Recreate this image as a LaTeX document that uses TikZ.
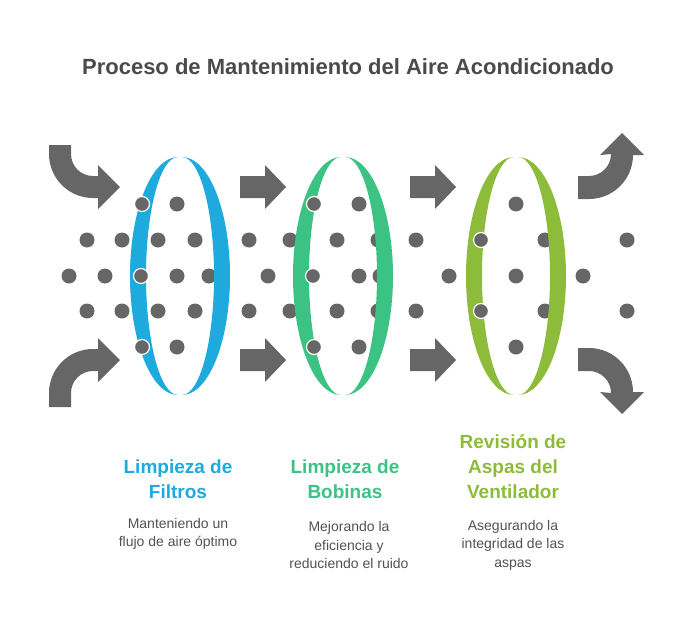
\documentclass[tikz,border=0pt]{standalone}
\usepackage{fontspec}
\setmainfont{Liberation Sans}
\definecolor{grey}{HTML}{666666}
\definecolor{titlegrey}{HTML}{4A4A4A}
\definecolor{cblue}{HTML}{1EAADC}
\definecolor{cgreen}{HTML}{3CC384}
\definecolor{clime}{HTML}{8DBB3A}
\tikzset{
  dot/.style={fill=grey},
  frontdot/.style={fill=grey, draw=white, line width=1.2pt},
  flow/.style={fill=grey},
  head/.style={font=\bfseries\fontsize{19}{25}\selectfont, align=center},
  desc/.style={font=\fontsize{14}{18.5}\selectfont, text=grey!80!black, align=center}
}
% left and right halves of a ring
\newcommand{\ringback}[2]{%
  \fill[#2] (#1+2,157) arc[start angle=270, end angle=450, x radius=48, y radius=119]
    arc[start angle=90, end angle=-90, x radius=32, y radius=119] -- cycle;}
\newcommand{\ringfront}[2]{%
  \fill[#2] (#1-2,157) arc[start angle=270, end angle=90, x radius=48, y radius=119]
    arc[start angle=90, end angle=270, x radius=32, y radius=119] -- cycle;}
\newcommand{\straightarrow}[2]{%
  \fill[flow] (#1,#2-11) -- (#1+25,#2-11) -- (#1+25,#2-22) -- (#1+46,#2)
    -- (#1+25,#2+22) -- (#1+25,#2+11) -- (#1,#2+11) -- cycle;}
\begin{document}
\begin{tikzpicture}[x=1pt, y=-1pt]
  \useasboundingbox (0,0) rectangle (696,624);
  \node (title) at (348,67) {\fontsize{22}{26}\selectfont\bfseries\color{titlegrey}Proceso de Mantenimiento del Aire Acondicionado};
  % dots behind the rings
  \foreach \x in {87,122,158,195,249,290,337,378,416,481,545,627}
    {\fill[dot] (\x,240) circle (7.5); \fill[dot] (\x,311) circle (7.5);}
  \foreach \x in {69,105,141,177,209,268,313,359,380,449,516,583}
    \fill[dot] (\x,276) circle (7.5);
  \foreach \x in {142,177,314,359,516}
    {\fill[dot] (\x,204) circle (7.5); \fill[dot] (\x,347) circle (7.5);}
  % rings
  \ringback{180}{cblue}  \ringfront{180}{cblue}
  \ringback{343}{cgreen} \ringfront{343}{cgreen}
  \ringback{516}{clime}  \ringfront{516}{clime}
  % dots in front of the rings
  \foreach \x/\y in {142/204,141/276,142/347,314/204,313/276,314/347,481/240,481/311}
    \filldraw[frontdot] (\x,\y) circle (7.5);
  % straight arrows
  \straightarrow{240}{187} \straightarrow{240}{360}
  \straightarrow{410}{187} \straightarrow{410}{360}
  % curved arrows in
  \fill[flow] (49,145) -- (71,145) -- (71,154) arc[start angle=180, end angle=90, radius=22]
    -- (98,176) -- (98,165) -- (120,187) -- (98,209) -- (98,198) -- (93,198)
    arc[start angle=90, end angle=180, radius=44] -- cycle;
  \fill[flow] (49,407) -- (71,407) -- (71,393) arc[start angle=180, end angle=270, radius=22]
    -- (98,371) -- (98,382) -- (120,360) -- (98,338) -- (98,349) -- (93,349)
    arc[start angle=270, end angle=180, radius=44] -- cycle;
  % curved arrows out
  \fill[flow] (578,176) -- (589,176) arc[start angle=90, end angle=0, radius=22]
    -- (600,155) -- (622,133) -- (644,155) -- (633,155)
    arc[start angle=0, end angle=90, radius=44] -- (578,199) -- cycle;
  \fill[flow] (578,371) -- (589,371) arc[start angle=270, end angle=360, radius=22]
    -- (600,392) -- (622,414) -- (644,392) -- (633,392)
    arc[start angle=0, end angle=-90, radius=44] -- (578,348) -- cycle;
  % labels
  \node[head, text=cblue] (h1) at (178,479) {Limpieza de\\Filtros};
  \node[head, text=cgreen] (h2) at (345,479) {Limpieza de\\Bobinas};
  \node[head, text=clime] (h3) at (513,467) {Revisión de\\Aspas del\\Ventilador};
  \node[desc] (d1) at (178,534) {Manteniendo un\\flujo de aire óptimo};
  \node[desc] (d2) at (349,545) {Mejorando la\\eficiencia y\\reduciendo el ruido};
  \node[desc] (d3) at (513,545) {Asegurando la\\integridad de las\\aspas};
\end{tikzpicture}
\end{document}
